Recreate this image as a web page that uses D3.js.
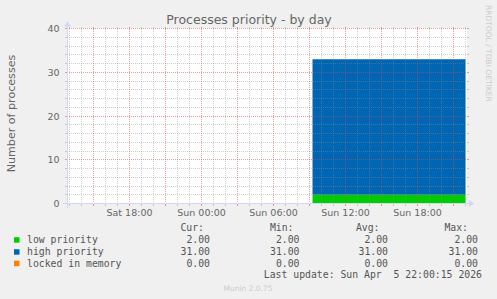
<!DOCTYPE html>
<html lang="en">
<head>
<meta charset="utf-8">
<title>Processes priority - by day</title>
<script src="https://cdn.jsdelivr.net/npm/d3@7"></script>
<style>
  body { margin: 0; background: #f0f0f0; }
  svg { display: block; }
  text { font-family: "DejaVu Sans", sans-serif; fill: #666; }
  .mono { font-family: "DejaVu Sans Mono", monospace; font-size: 9.8px; fill: #555; }
</style>
</head>
<body>
<svg id="chart" width="497" height="299"></svg>
<script>

// samples (UTC), one per hour of the collected period
var times = ["2026-04-05T09:15", "2026-04-05T10:00", "2026-04-05T11:00", "2026-04-05T12:00",
  "2026-04-05T13:00", "2026-04-05T14:00", "2026-04-05T15:00", "2026-04-05T16:00",
  "2026-04-05T17:00", "2026-04-05T18:00", "2026-04-05T19:00", "2026-04-05T20:00",
  "2026-04-05T21:00", "2026-04-05T22:00"]
var lowPriority  = [2, 2, 2, 2, 2, 2, 2, 2, 2, 2, 2, 2, 2, 2]
var highPriority = [31, 31, 31, 31, 31, 31, 31, 31, 31, 31, 31, 31, 31, 31]
var lockedMemory = [0, 0, 0, 0, 0, 0, 0, 0, 0, 0, 0, 0, 0, 0]

var seriesKeys   = ["low", "high", "locked"]
var seriesNames  = ["low priority", "high priority", "locked in memory"]
var seriesColors = ["#00cc00", "#0066b3", "#ff8000"]

var statCur = ["2.00", "31.00", "0.00"]
var statMin = ["2.00", "31.00", "0.00"]
var statAvg = ["2.00", "31.00", "0.00"]
var statMax = ["2.00", "31.00", "0.00"]

var yTicks = [0, 10, 20, 30, 40]
var xTicks = ["2026-04-04T18:00", "2026-04-05T00:00", "2026-04-05T06:00", "2026-04-05T12:00", "2026-04-05T18:00"]
var timeRange = ["2026-04-04T12:47:30", "2026-04-05T22:07:30"]

var parse = d3.utcParse("%Y-%m-%dT%H:%M")
var parseS = d3.utcParse("%Y-%m-%dT%H:%M:%S")
var fmt = d3.utcFormat("%a %H:%M")

var svg = d3.select("#chart")
var X0 = 67, X1 = 467, Y0 = 203.5, Y1 = 28.5

var x = d3.scaleUtc().domain(timeRange.map(parseS)).range([X0, X1])
var y = d3.scaleLinear().domain([0, 40]).range([Y0, Y1])

var table = times.map((t, i) => ({ t: parse(t), low: lowPriority[i], high: highPriority[i], locked: lockedMemory[i] }))
var stack = d3.stack().keys(seriesKeys)(table)

// canvas
svg.append("rect").attr("x", X0).attr("y", Y1 - 0.5).attr("width", X1 - X0).attr("height", Y0 - Y1 + 0.5)
  .attr("fill", "#fff")

var area = d3.area()
  .curve(d3.curveStepAfter)
  .x(d => x(d.data.t))
  .y0(d => y(d[0]))
  .y1(d => y(d[1]))

svg.append("g").selectAll("path")
  .data(stack)
  .enter().append("path")
    .attr("d", area)
    .attr("fill", (d, i) => seriesColors[i])

// grid, drawn over the data like rrdtool does
var grid = svg.append("g").attr("shape-rendering", "crispEdges")
var minorCol = "rgba(140,140,140,0.42)", majorCol = "rgba(205,80,80,0.55)"

function hLine(v, col) {
  var yy = Math.floor(y(v)) + 0.5
  grid.append("line").attr("x1", X0).attr("x2", X1).attr("y1", yy).attr("y2", yy)
    .attr("stroke", col).attr("stroke-dasharray", "1,1")
  grid.append("line").attr("x1", X0 - 2).attr("x2", X0).attr("y1", yy).attr("y2", yy).attr("stroke", col)
  grid.append("line").attr("x1", X1).attr("x2", X1 + 2).attr("y1", yy).attr("y2", yy).attr("stroke", col)
}
function vLine(t, col) {
  var xx = Math.floor(x(t)) + 0.5
  grid.append("line").attr("x1", xx).attr("x2", xx).attr("y1", Y1).attr("y2", Y0)
    .attr("stroke", col).attr("stroke-dasharray", "1,1")
  grid.append("line").attr("x1", xx).attr("x2", xx).attr("y1", Y0).attr("y2", Y0 + 2).attr("stroke", col)
  grid.append("line").attr("x1", xx).attr("x2", xx).attr("y1", Y1 - 2).attr("y2", Y1).attr("stroke", col)
}

d3.range(2, 40, 2).filter(v => v % 10 != 0).forEach(v => hLine(v, minorCol))
d3.utcHour.range(x.domain()[0], x.domain()[1]).filter(t => t.getUTCHours() % 3 != 0).forEach(t => vLine(t, minorCol))
yTicks.slice(1).forEach(v => hLine(v, majorCol))
d3.utcHour.every(3).range(x.domain()[0], x.domain()[1]).forEach(t => vLine(t, majorCol))

// axes with arrows
var axisCol = "#cfd6f8"
grid.append("line").attr("x1", X0 - 4).attr("x2", X1 + 3).attr("y1", Y0).attr("y2", Y0).attr("stroke", axisCol)
grid.append("line").attr("x1", X0 + 0.5).attr("x2", X0 + 0.5).attr("y1", Y0 + 4).attr("y2", Y1 - 3).attr("stroke", axisCol)
svg.append("path").attr("d", `M${X1 + 2},${Y0 - 3.5}L${X1 + 7},${Y0}L${X1 + 2},${Y0 + 3.5}Z`).attr("fill", axisCol)
svg.append("path").attr("d", `M${X0 - 3},${Y1 - 2}L${X0 + 0.5},${Y1 - 7}L${X0 + 4},${Y1 - 2}Z`).attr("fill", axisCol)

// tick labels
svg.append("g").selectAll("text")
  .data(yTicks)
  .enter().append("text")
    .attr("x", 59.5)
    .attr("y", d => y(d) + 3.5)
    .attr("text-anchor", "end")
    .attr("font-size", "9.5px")
    .text(d => d)

svg.append("g").selectAll("text")
  .data(xTicks.map(parse))
  .enter().append("text")
    .attr("x", d => x(d))
    .attr("y", 216)
    .attr("text-anchor", "middle")
    .attr("font-size", "9.5px")
    .text(d => fmt(d))

// titles
svg.append("text")
  .attr("x", 249).attr("y", 24)
  .attr("text-anchor", "middle")
  .attr("font-size", "12.5px")
  .text("Processes priority - by day")

svg.append("text")
  .attr("transform", "translate(15,113.5) rotate(-90)")
  .attr("text-anchor", "middle")
  .attr("font-size", "11.1px")
  .text("Number of processes")

svg.append("text")
  .attr("transform", "translate(485.5,5) rotate(90)")
  .attr("font-size", "7.5px")
  .style("fill", "#cccccc")
  .text("RRDTOOL / TOBI OETIKER")

// legend
var rowY = [243, 255, 266.5]
var cols = [
  { head: "Cur:", hx: 204, vx: 210, vals: statCur },
  { head: "Min:", hx: 293.5, vx: 299.5, vals: statMin },
  { head: "Avg:", hx: 379.5, vx: 388, vals: statAvg },
  { head: "Max:", hx: 468, vx: 478, vals: statMax }
]

var legend = svg.append("g")
cols.forEach(c => {
  legend.append("text").attr("class", "mono").attr("x", c.hx).attr("y", 231)
    .attr("text-anchor", "end").text(c.head)
  c.vals.forEach((v, i) => {
    legend.append("text").attr("class", "mono").attr("x", c.vx).attr("y", rowY[i])
      .attr("text-anchor", "end").text(v)
  })
})

seriesNames.forEach((n, i) => {
  legend.append("rect").attr("x", 14).attr("y", rowY[i] - 5.8).attr("width", 5.5).attr("height", 5.5)
    .attr("fill", seriesColors[i])
  legend.append("text").attr("class", "mono").attr("x", 27).attr("y", rowY[i])
    .style("white-space", "pre").text(n)
})

legend.append("text").attr("class", "mono").attr("x", 482).attr("y", 278)
  .attr("text-anchor", "end").style("white-space", "pre")
  .text("Last update: Sun Apr  5 22:00:15 2026")

svg.append("text")
  .attr("x", 248).attr("y", 291)
  .attr("text-anchor", "middle")
  .attr("font-size", "7.5px")
  .style("fill", "#cccccc")
  .text("Munin 2.0.75")

</script>
</body>
</html>
